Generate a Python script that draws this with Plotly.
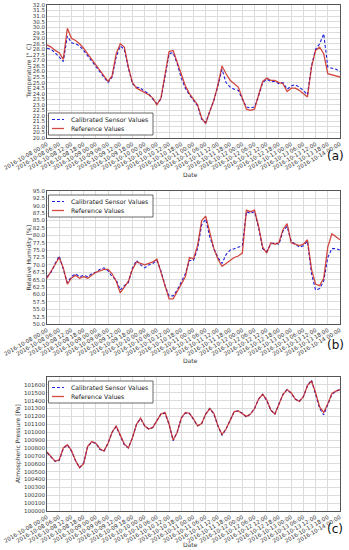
import pandas as pd
import plotly.graph_objects as go

# ---- data (2-hour samples from 2016-10-08 00:00 to 2016-10-14 00:00) ----
start = "2016-10-08 00:00"
n_points = 73

temp_ref = [28.4, 28.2, 27.9, 27.7, 27.1, 29.9, 29.0, 28.8, 28.5, 28.1, 27.6, 27.1, 26.7,
            26.2, 25.7, 25.1, 25.6, 27.6, 28.5, 28.2, 26.4, 25.0, 24.5, 24.3, 24.1, 23.9,
            23.6, 23.0, 23.6, 25.8, 27.8, 27.9, 26.8, 25.6, 24.7, 24.0, 23.5, 23.0, 21.8,
            21.3, 22.4, 23.4, 24.8, 26.5, 25.8, 25.2, 24.9, 24.6, 23.6, 22.6, 22.5, 22.6,
            23.9, 25.1, 25.4, 25.2, 25.2, 25.0, 24.9, 24.2, 24.5, 24.5, 24.3, 24.0, 23.7,
            26.4, 27.9, 28.2, 27.6, 25.8, 25.7, 25.6, 25.5]
temp_sen = [28.1, 28.0, 27.7, 27.3, 26.9, 29.2, 28.6, 28.5, 28.3, 27.9, 27.4, 26.9, 26.5,
            26.0, 25.5, 25.0, 25.5, 27.3, 28.3, 28.0, 26.3, 24.9, 24.6, 24.5, 24.2, 24.0,
            23.5, 23.1, 23.5, 25.6, 27.6, 27.7, 26.7, 25.4, 24.5, 23.9, 23.4, 22.9, 21.7,
            21.4, 22.4, 23.4, 24.7, 26.2, 25.0, 24.6, 24.4, 24.3, 23.5, 22.8, 22.7, 22.8,
            23.8, 25.0, 25.3, 25.1, 25.1, 24.9, 25.0, 24.4, 24.7, 24.8, 24.6, 24.3, 23.9,
            26.5, 28.0, 28.5, 29.4, 26.4, 26.3, 26.2, 26.0]

hum_ref = [65.5, 68.0, 70.0, 72.5, 69.0, 63.5, 65.5, 66.5, 65.5, 66.0, 65.5, 66.5, 67.5,
           68.0, 68.5, 68.5, 67.0, 64.5, 60.5, 62.5, 64.5, 68.5, 71.0, 70.5, 70.0, 70.5,
           71.0, 72.0, 67.5, 62.5, 58.5, 58.5, 61.0, 63.5, 66.0, 72.5, 72.0, 76.5, 85.0,
           86.5, 80.5, 75.5, 72.0, 69.5, 70.5, 71.5, 72.5, 73.0, 74.0, 88.5, 88.0, 88.5,
           83.0, 76.0, 74.0, 77.5, 77.0, 77.5, 82.0, 84.0, 77.5, 77.0, 76.5, 77.0, 78.5,
           68.5, 63.5, 63.0, 65.5, 76.0, 80.5, 79.5, 78.5]
hum_sen = [66.0, 67.5, 70.5, 73.0, 68.5, 64.0, 66.0, 67.0, 66.0, 66.5, 66.0, 67.0, 67.5,
           68.5, 69.0, 68.0, 66.0, 65.0, 61.5, 63.0, 64.0, 69.0, 71.5, 70.0, 69.0, 70.0,
           70.5, 71.5, 68.0, 63.0, 59.5, 59.5, 61.5, 64.0, 67.0, 71.5, 71.5, 75.5, 83.5,
           85.5, 79.5, 75.5, 72.5, 70.5, 73.5, 75.0, 75.5, 76.0, 76.5, 88.0, 87.5, 88.0,
           82.5, 75.5, 74.5, 77.0, 77.5, 77.0, 81.5, 83.0, 78.0, 77.0, 76.0, 76.5, 78.0,
           67.0, 61.5, 62.0, 64.5, 72.5, 75.5, 75.5, 75.0]

pres_ref = [100750, 100690, 100630, 100650, 100800, 100840, 100770, 100640, 100550, 100600,
            100820, 100880, 100860, 100790, 100760, 100860, 101000, 101080, 100960, 100850,
            100800, 100930, 101100, 101180, 101080, 101040, 101060, 101140, 101230, 101250,
            101100, 100900, 101000, 101180, 101250, 101240, 101170, 101080, 101110, 101230,
            101300, 101240, 101080, 100970, 101040, 101150, 101260, 101270, 101240, 101200,
            101230, 101300, 101420, 101480, 101410, 101280, 101230, 101360, 101480, 101540,
            101500, 101420, 101390, 101450, 101590, 101650, 101500, 101320, 101250, 101360,
            101490, 101520, 101540]
pres_sen = [100740, 100680, 100630, 100640, 100790, 100840, 100760, 100640, 100550, 100610,
            100820, 100870, 100860, 100780, 100760, 100860, 101000, 101070, 100960, 100840,
            100800, 100930, 101100, 101170, 101080, 101040, 101060, 101140, 101230, 101240,
            101100, 100890, 101000, 101180, 101240, 101240, 101160, 101080, 101110, 101230,
            101300, 101230, 101080, 100960, 101040, 101150, 101260, 101270, 101240, 101190,
            101230, 101300, 101420, 101480, 101400, 101280, 101230, 101360, 101480, 101540,
            101490, 101420, 101390, 101450, 101590, 101660, 101490, 101300, 101220, 101350,
            101480, 101520, 101540]

temp_ticks = [20.0 + 0.5 * i for i in range(25)]
hum_ticks = [50.0 + 2.5 * i for i in range(19)]
pres_ticks = [100000 + 100 * i for i in range(17)]

series_names = ["Calibrated Sensor Values", "Reference Values"]

tick_dates = pd.date_range("2016-10-08 00:00", "2016-10-14 00:00", freq="6h")
tick_labels = [d.strftime("%Y-%m-%d %H:%M") for d in tick_dates]

t = pd.date_range(start, periods=n_points, freq="2h")

W, H = 349, 550
def px_x(p):
    return p / W
def px_y(p):
    return 1 - p / H

x_dom = [px_x(47), px_x(340)]
panels = [
    dict(top=5, bottom=138, yrange=[20.0, 32.0], ticks=temp_ticks, fmt=".1f",
         title="Temperature [° C]", title_x=28, letter="(a)", letter_y=156, date_y=174,
         ref=temp_ref, sen=temp_sen, leg_y=113),
    dict(top=191, bottom=324, yrange=[50.0, 95.0], ticks=hum_ticks, fmt=".1f",
         title="Relative Humidity [%]", title_x=28, letter="(b)", letter_y=345, date_y=360,
         ref=hum_ref, sen=hum_sen, leg_y=195),
    dict(top=377, bottom=511, yrange=[100000, 101700], ticks=pres_ticks, fmt="d",
         title="Atmospheric Pressure [Pa]", title_x=18, letter="(c)", letter_y=529, date_y=544,
         ref=pres_ref, sen=pres_sen, leg_y=381),
]

fig = go.Figure()
annotations = []
shapes = []
layout = dict(
    width=W, height=H, margin=dict(l=0, r=0, t=0, b=0),
    paper_bgcolor="white", plot_bgcolor="white", showlegend=False,
    font=dict(family="DejaVu Sans", size=6, color="#333"),
)

sen_color = "#2020e0"
ref_color = "rgba(200,30,20,0.8)"
sen_dash = "3px,2px"

for i, p in enumerate(panels):
    k = "" if i == 0 else str(i + 1)
    fig.add_trace(go.Scatter(
        x=t, y=p["sen"], mode="lines", name=series_names[0],
        line=dict(color=sen_color, width=1.1, dash=sen_dash),
        xaxis="x" + k, yaxis="y" + k))
    fig.add_trace(go.Scatter(
        x=t, y=p["ref"], mode="lines", name=series_names[1],
        line=dict(color=ref_color, width=1.3),
        xaxis="x" + k, yaxis="y" + k))

    layout["xaxis" + k] = dict(
        domain=x_dom, anchor="y" + k, type="date",
        range=[tick_dates[0], tick_dates[-1]],
        tickmode="array", tickvals=list(tick_dates), ticktext=tick_labels,
        tickangle=-30, tickfont=dict(size=5.5, color="#333"),
        showgrid=True, gridcolor="#dcdcdc", gridwidth=0.6,
        showline=True, mirror=True, linecolor="#555", linewidth=1,
        ticks="", automargin=False, zeroline=False,
    )
    layout["yaxis" + k] = dict(
        domain=[px_y(p["bottom"]), px_y(p["top"])], anchor="x" + k,
        range=p["yrange"], tickmode="array", tickvals=p["ticks"], tickformat=p["fmt"],
        tickfont=dict(size=5.5, color="#333"),
        showgrid=True, gridcolor="#dcdcdc", gridwidth=0.6,
        showline=True, mirror=True, linecolor="#555", linewidth=1,
        ticks="", automargin=False, zeroline=False,
    )

    # legend box (drawn manually for a compact matplotlib-like legend)
    ly = p["leg_y"]
    shapes.append(dict(type="rect", xref="paper", yref="paper", layer="above",
                       x0=px_x(48.5), x1=px_x(153), y0=px_y(ly + 22), y1=px_y(ly),
                       line=dict(color="#444", width=0.8), fillcolor="white"))
    rows = [(ly + 6.5, sen_color, sen_dash, 1.1), (ly + 15.5, ref_color, "solid", 1.3)]
    for (ry, col, dash, lw), name in zip(rows, series_names):
        shapes.append(dict(type="line", xref="paper", yref="paper", layer="above",
                           x0=px_x(52), x1=px_x(64), y0=px_y(ry), y1=px_y(ry),
                           line=dict(color=col, width=lw, dash=dash)))
        annotations.append(dict(
            x=px_x(69), y=px_y(ry), xref="paper", yref="paper", text=name,
            showarrow=False, font=dict(size=6.2, color="#222"),
            xanchor="left", yanchor="middle"))

    annotations.append(dict(
        x=px_x(p["title_x"]), y=px_y((p["top"] + p["bottom"]) / 2), xref="paper", yref="paper",
        text=p["title"], textangle=-90, showarrow=False, font=dict(size=6, color="#333"),
        xanchor="center", yanchor="middle"))
    annotations.append(dict(
        x=px_x(190), y=px_y(p["date_y"]), xref="paper", yref="paper",
        text="Date", showarrow=False, font=dict(size=6, color="#333"),
        xanchor="center", yanchor="middle"))
    annotations.append(dict(
        x=px_x(335), y=px_y(p["letter_y"]), xref="paper", yref="paper",
        text=p["letter"], showarrow=False, font=dict(size=12, color="#111"),
        xanchor="center", yanchor="middle"))

layout["annotations"] = annotations
layout["shapes"] = shapes
fig.update_layout(**layout)
fig.write_html("out.html",
               config={"displayModeBar": False},
               post_script="document.body.style.margin='0px';document.body.style.overflow='hidden';")
